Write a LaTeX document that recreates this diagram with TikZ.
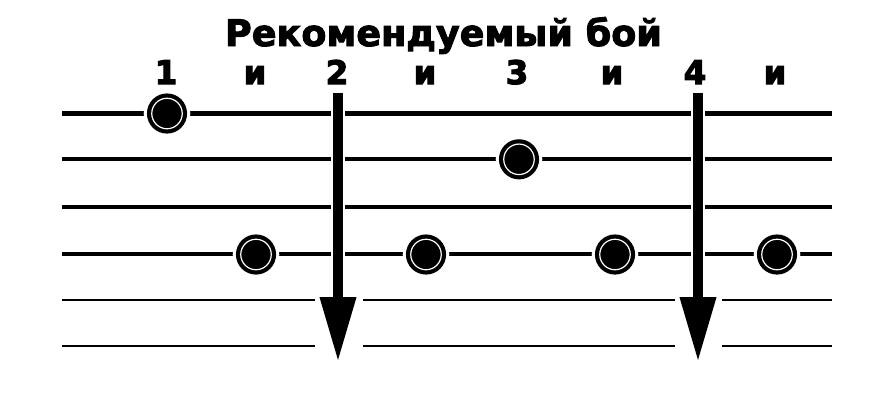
\documentclass[tikz,border=0pt]{standalone}
\usepackage{fontspec}
\setmainfont{DejaVu Sans}
\newfontfamily\heavy{DejaVu Sans Bold}[FakeBold=2.5]
\newfontfamily\heavier{DejaVu Sans Bold}[FakeBold=3.5]
\usetikzlibrary{arrows.meta}
\begin{document}
\begin{tikzpicture}[x=1pt,y=-1pt,
  lbl/.style={font=\heavier\fontsize{32.5}{32.5}\selectfont, anchor=base, inner sep=0pt},
  dot/.style={circle, inner sep=0pt, minimum size=30.5pt, fill=black, draw=black,
    double=white, double distance=1.2pt, line width=4.2pt,
    preaction={draw=white, line width=16pt}},
  strum/.style={line width=10pt, -{Triangle[length=65pt, width=34pt]}},
  halo/.style={white, line width=14pt, shorten >=65pt},
]
\useasboundingbox[fill=white] (0,0) rectangle (896,400);
% title
\node[anchor=base, inner sep=0pt] (title) at (443.5,46)
  {\resizebox{437pt}{!}{\heavy Рекомендуемый бой}};
% beat labels
\node[lbl] (l1) at (166,84) {1};
\node[lbl] (l2) at (255,84) {и};
\node[lbl] (l3) at (337,84) {2};
\node[lbl] (l4) at (425,84) {и};
\node[lbl] (l5) at (517,84) {3};
\node[lbl] (l6) at (612,84) {и};
\node[lbl] (l7) at (695,84) {4};
\node[lbl] (l8) at (775,84) {и};
% strings
\draw[line width=4.5pt] (62,113.5) -- (832,113.5);
\draw[line width=3.8pt] (62,159.3) -- (832,159.3);
\draw[line width=3.8pt] (62,207.3) -- (832,207.3);
\draw[line width=3.5pt] (62,254) -- (832,254);
\foreach \y/\w in {300/2.6, 346/2}{
  \draw[line width=\w pt] (62,\y) -- (315,\y);
  \draw[line width=\w pt] (363,\y) -- (675,\y);
  \draw[line width=\w pt] (722,\y) -- (832,\y);
}
% strums
\coordinate (a1top) at (338,93);
\coordinate (a1tip) at (338,362);
\coordinate (a2top) at (698,93);
\coordinate (a2tip) at (698,362);
\draw[halo] (a1top) -- (a1tip);
\draw[halo] (a2top) -- (a2tip);
\draw[strum] (a1top) -- (a1tip);
\draw[strum] (a2top) -- (a2tip);
% dots
\node[dot] (d1) at (167,113.5) {};
\node[dot] (d2) at (519,159.3) {};
\node[dot] (d3) at (256,254.5) {};
\node[dot] (d4) at (426,254.5) {};
\node[dot] (d5) at (615,254.5) {};
\node[dot] (d6) at (777,254.5) {};
\end{tikzpicture}
\end{document}
